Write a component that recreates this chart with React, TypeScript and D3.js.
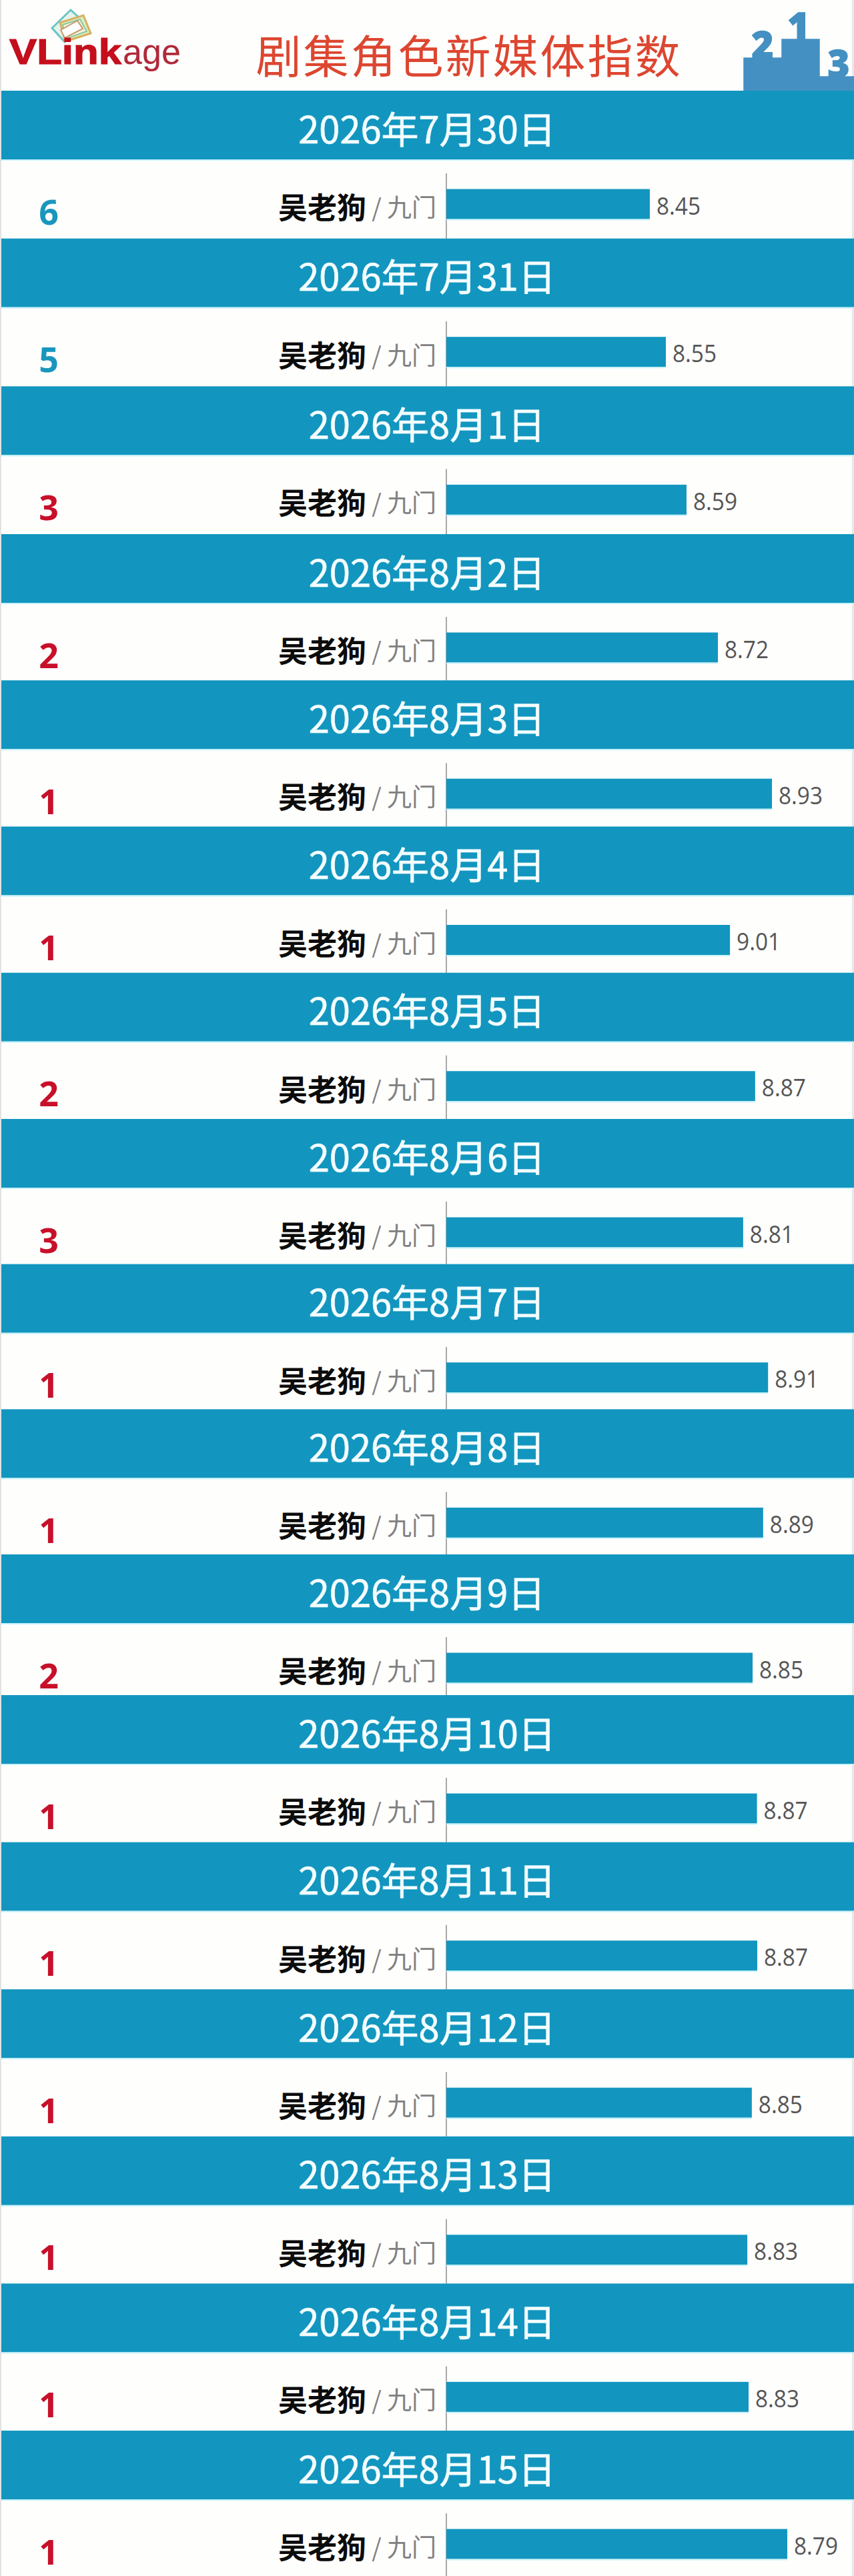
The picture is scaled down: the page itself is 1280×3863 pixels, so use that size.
import React, { useRef, useEffect } from 'react';
import * as d3 from 'd3';

const dates = [
  '2026年7月30日', '2026年7月31日', '2026年8月1日', '2026年8月2日', '2026年8月3日', '2026年8月4日',
  '2026年8月5日', '2026年8月6日', '2026年8月7日', '2026年8月8日', '2026年8月9日', '2026年8月10日',
  '2026年8月11日', '2026年8月12日', '2026年8月13日', '2026年8月14日', '2026年8月15日',
];
const ranks = [6, 5, 3, 2, 1, 1, 2, 3, 1, 1, 2, 1, 1, 1, 1, 1, 1];
const values = [8.45, 8.55, 8.59, 8.72, 8.93, 9.01, 8.87, 8.81, 8.91, 8.89, 8.85, 8.87, 8.87, 8.85, 8.83, 8.83, 8.79];
// every frame of the ranking has its own x axis, so each day gets its own maximum
const axisMax = [16.93, 15.88, 14.58, 13.09, 11.18, 12.95, 11.71, 12.1, 11.29, 11.44, 11.78, 11.64, 11.63, 11.81, 11.96, 11.91, 10.51];
const character = '吴老狗';
const drama = '九门';

const WIDTH = 1280;
const HEIGHT = 3863;
const BLUE = '#1296bf';
const CJK = '"Noto Sans CJK SC", "Noto Sans", sans-serif';
const LATIN = '"Open Sans", "Noto Sans", sans-serif';

const App: React.FC = () => {
  const svgRef = useRef<SVGSVGElement | null>(null);

  useEffect(() => {
    if (!svgRef.current) return;
    const svg = d3.select(svgRef.current);
    svg.selectAll('*').remove();
    svg.attr('viewBox', `0 0 ${WIDTH} ${HEIGHT}`);

    // row spacing in the stitched picture is slightly uneven
    const rowY = d3.scaleLinear().domain([0, 3, 7, 10, 11, 16]).range([136, 801, 1678, 2331, 2542, 3645]);
    const x0 = 669;
    const rows = dates.map((date, i) => ({
      date,
      rank: ranks[i],
      value: values[i],
      top: rowY(i),
      x: d3.scaleLinear().domain([0, axisMax[i]]).range([x0, WIDTH]),
    }));

    svg.append('rect').attr('width', WIDTH).attr('height', HEIGHT).attr('fill', '#fefefd');
    svg.append('rect').attr('width', 2).attr('height', HEIGHT).attr('fill', '#e2e2e2');
    svg.append('rect').attr('x', 1277).attr('width', 3).attr('height', HEIGHT).attr('fill', '#e8e8e8');

    // logo
    const logo = svg.append('g');
    const card = (points: string, stroke: string, fill = 'none', w = 3) =>
      logo.append('polygon').attr('points', points).attr('fill', fill).attr('stroke', stroke).attr('stroke-width', w);
    card('106,15 78,42 97,63 127,34', '#6cc4c4', '#e4f4ec');
    card('90,34 125,23 136,50 98,62', '#d8b060', '#dcecc0');
    card('94,37 120,29 130,47 99,58', '#8cc8a0', '#f4f0d8', 2);
    card('91,45 116,31 124,43 97,57', '#c89868', '#ffffff', 2);
    logo.append('text').text('VLink').attr('x', 14).attr('y', 96)
      .attr('textLength', 168).attr('lengthAdjust', 'spacingAndGlyphs')
      .attr('font-family', '"Liberation Sans"').attr('font-weight', 700).attr('font-size', 54)
      .attr('fill', '#c40f1c').attr('stroke', '#c40f1c').attr('stroke-width', 1.2);
    logo.append('text').text('age').attr('x', 184).attr('y', 96)
      .attr('textLength', 87).attr('lengthAdjust', 'spacingAndGlyphs')
      .attr('font-family', '"Liberation Sans"').attr('font-size', 54).attr('fill', '#b02a38');

    // title
    svg.append('text').text('剧集角色新媒体指数').attr('x', 703).attr('y', 80)
      .attr('text-anchor', 'middle').attr('dominant-baseline', 'central')
      .attr('font-family', CJK).attr('font-size', 68).attr('letter-spacing', 3).attr('fill', '#dd4630');

    // podium
    const podium = svg.append('g').attr('fill', '#4490c2').attr('stroke', '#4490c2').attr('stroke-width', 1.5);
    podium.append('path').attr('d', 'M1115,136V87H1172V59H1228V115H1280V136Z');
    [['2', 1143, 88], ['1', 1197, 60], ['3', 1257, 116]].forEach(([t, x, y]) => {
      podium.append('text').text(t as string).attr('x', x as number).attr('y', y as number)
        .attr('text-anchor', 'middle').attr('font-family', '"Open Sans"').attr('font-weight', 800)
        .attr('font-size', 56);
    });

    // rows
    const row = svg.selectAll('g.row').data(rows).enter().append('g').attr('class', 'row')
      .attr('transform', d => `translate(0,${d.top})`);

    row.append('rect').attr('x', 2).attr('width', WIDTH - 2).attr('height', 103).attr('fill', BLUE);
    row.append('rect').attr('x', 2).attr('y', 103).attr('width', WIDTH - 2).attr('height', 2).attr('fill', '#c8f2fa');
    row.append('text').text(d => d.date).attr('x', 640).attr('y', 54)
      .attr('text-anchor', 'middle').attr('dominant-baseline', 'central')
      .attr('font-family', CJK).attr('font-size', 56).attr('fill', '#f4fdfe')
      .attr('stroke', '#f4fdfe').attr('stroke-width', 0.7);

    row.append('line').attr('x1', x0).attr('x2', x0).attr('y1', 124).attr('y2', (d, i) => (i < rows.length - 1 ? rows[i + 1].top - d.top : HEIGHT - d.top))
      .attr('stroke', '#8c8c8c').attr('stroke-width', 1.5);

    row.append('rect').attr('x', x0).attr('y', 147.5).attr('height', 45)
      .attr('width', d => d.x(d.value) - x0).attr('fill', BLUE);
    row.append('rect').attr('x', x0).attr('y', 192.5).attr('height', 2)
      .attr('width', d => d.x(d.value) - x0).attr('fill', '#c8f2fa');

    row.append('text').text(d => d.value.toFixed(2))
      .attr('x', d => d.x(d.value) + 10).attr('y', 171)
      .attr('dominant-baseline', 'central')
      .attr('textLength', 66).attr('lengthAdjust', 'spacingAndGlyphs')
      .attr('font-family', LATIN).attr('font-size', 37).attr('fill', '#555555');

    row.append('text').text(d => d.rank).attr('x', 73).attr('y', 180)
      .attr('text-anchor', 'middle').attr('dominant-baseline', 'central')
      .attr('font-family', LATIN).attr('font-weight', 700).attr('font-size', 52)
      .attr('fill', d => (d.rank <= 3 ? '#c8102a' : '#1a96bd'));

    const label = row.append('text').attr('x', 654).attr('y', 173)
      .attr('text-anchor', 'end').attr('dominant-baseline', 'central').attr('font-family', CJK);
    label.append('tspan').text(character).attr('font-size', 44).attr('font-weight', 700).attr('fill', '#0c0c0c');
    label.append('tspan').text(` / ${drama}`).attr('font-size', 37).attr('fill', '#808080');
  }, []);

  return (
    <div style={{ position: 'absolute', left: 0, top: 0, width: WIDTH, height: HEIGHT, overflow: 'hidden' }}>
      <svg ref={svgRef} width={WIDTH} height={HEIGHT} style={{ display: 'block' }} />
    </div>
  );
};

export default App;
